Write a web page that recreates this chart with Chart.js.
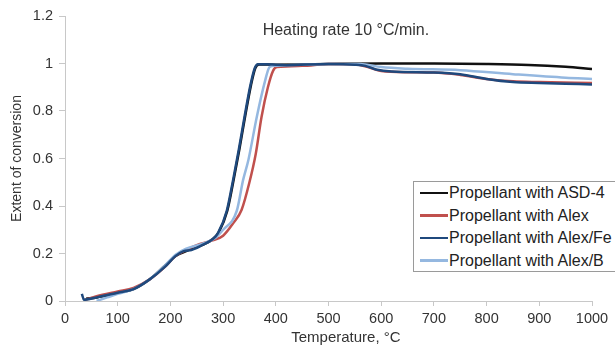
<!DOCTYPE html>
<html>
<head>
<meta charset="utf-8">
<script src="https://cdn.jsdelivr.net/npm/chart.js@4.4.1/dist/chart.umd.min.js"></script>
<style>
  html, body { margin: 0; padding: 0; background: #fff; }
  #wrap { position: relative; width: 615px; height: 347px; overflow: hidden; }
  #legend {
    position: absolute; left: 413px; top: 181px; width: 215px; height: 91px;
    border: 1px solid #9a9a9a; background: #fff; box-sizing: border-box;
    font-family: "Liberation Sans", Arial, sans-serif; font-size: 16px; color: #222;
    padding-top: 0px;
  }
  .row { height: 22.6px; line-height: 22.6px; white-space: nowrap; }
  .swatch { display: inline-block; width: 28px; height: 2.5px; vertical-align: middle; margin-left: 6px; margin-right: 1px; position: relative; top: -1px; }
</style>
</head>
<body>
<div id="wrap">
  <canvas id="chart" width="615" height="347"></canvas>
  <div id="legend"></div>
</div>
<script>
// === DATA ===
const seriesNames = ["Propellant with ASD-4", "Propellant with Alex", "Propellant with Alex/Fe", "Propellant with Alex/B"];
const seriesColors = ["#111111", "#c0504d", "#1f497d", "#95b8e0"];

// ASD-4 (black)
const asdT = [40, 60, 100, 130, 160, 190, 210, 230, 260, 280, 292, 308, 320, 331, 342, 353, 361, 368, 400, 500, 600, 700, 800, 880, 950, 1000];
const asdY = [0.01, 0.015, 0.035, 0.05, 0.09, 0.15, 0.19, 0.21, 0.235, 0.26, 0.29, 0.38, 0.51, 0.64, 0.78, 0.91, 0.98, 0.996, 0.995, 0.998, 1.0, 1.0, 0.998, 0.994, 0.986, 0.977];

// Alex (red)
const alexT = [38, 60, 100, 130, 160, 190, 210, 230, 250, 280, 300, 320, 335, 350, 362, 373, 385, 395, 402, 450, 500, 550, 575, 600, 650, 700, 750, 800, 850, 900, 1000];
const alexY = [0.005, 0.02, 0.04, 0.055, 0.09, 0.145, 0.19, 0.215, 0.235, 0.255, 0.275, 0.33, 0.383, 0.5, 0.62, 0.776, 0.9, 0.97, 0.985, 0.99, 0.998, 0.997, 0.985, 0.968, 0.963, 0.962, 0.952, 0.935, 0.925, 0.922, 0.918];

// Alex/Fe (dark blue)
const feT = [32, 36, 60, 100, 130, 160, 190, 210, 225, 240, 260, 280, 290, 307, 319, 330, 341, 352, 360, 366, 380, 420, 500, 550, 570, 590, 620, 700, 750, 800, 850, 900, 950, 1000];
const feY = [0.03, 0.005, 0.015, 0.035, 0.05, 0.09, 0.145, 0.19, 0.21, 0.215, 0.235, 0.26, 0.285, 0.38, 0.51, 0.64, 0.78, 0.91, 0.98, 0.997, 0.997, 0.993, 0.998, 0.995, 0.99, 0.975, 0.966, 0.962, 0.955, 0.935, 0.922, 0.918, 0.915, 0.912];

// Alex/B (light blue)
const bT = [60, 80, 100, 130, 160, 190, 210, 230, 260, 285, 300, 326, 338, 348, 364, 380, 388, 395, 450, 500, 560, 600, 650, 750, 850, 950, 1000];
const bY = [0.0, 0.015, 0.03, 0.05, 0.09, 0.15, 0.195, 0.22, 0.24, 0.265, 0.3, 0.38, 0.51, 0.594, 0.776, 0.93, 0.985, 0.99, 0.995, 0.998, 0.998, 0.985, 0.978, 0.972, 0.955, 0.94, 0.935];

const xTicks = [0, 100, 200, 300, 400, 500, 600, 700, 800, 900, 1000];
const yTicks = [0, 0.2, 0.4, 0.6, 0.8, 1, 1.2];

const chartTitle = "Heating rate 10 °C/min.";
const xTitle = "Temperature, °C";
const yTitle = "Extent of conversion";

// === HELPERS ===
function toPoints(xs, ys) {
    return xs.map((x, i) => ({ x: x, y: ys[i] }));
}

const allX = [asdT, alexT, feT, bT];
const allY = [asdY, alexY, feY, bY];
const drawOrder = [3, 2, 0, 1]; // lower = drawn on top

const datasets = seriesNames.map((name, i) => ({
    label: name,
    data: toPoints(allX[i], allY[i]),
    borderColor: seriesColors[i],
    backgroundColor: seriesColors[i],
    borderWidth: 2.5,
    pointRadius: 0,
    cubicInterpolationMode: 'monotone',
    order: drawOrder[i]
}));

const fontFamily = '"Liberation Sans", Arial, sans-serif';

// title inside the plot area + x axis title (both sit right of centre in the original)
const textPlugin = {
    id: 'extraText',
    afterDraw(chart) {
        const c = chart.ctx;
        const xs = chart.scales.x, ys = chart.scales.y;
        c.save();
        c.fillStyle = '#333';
        c.textAlign = 'center';
        c.textBaseline = 'middle';
        c.font = '16px ' + fontFamily;
        c.fillText(chartTitle, xs.getPixelForValue(533), ys.getPixelForValue(1.14));
        c.font = '15px ' + fontFamily;
        c.fillText(xTitle, xs.getPixelForValue(533), xs.bottom - 9);
        c.restore();
    }
};

const font = { family: fontFamily, size: 14.5 };

// === CHART ===
const ctx = document.getElementById('chart').getContext('2d');
const chart = new Chart(ctx, {
    type: 'line',
    data: { datasets: datasets },
    options: {
        responsive: false,
        animation: false,
        layout: { padding: { top: 16, right: 23, left: 0, bottom: 0 } },
        scales: {
            x: {
                type: 'linear',
                min: 0, max: 1000,
                afterBuildTicks: s => { s.ticks = xTicks.map(v => ({ value: v })); },
                afterFit: s => { s.height = 46; },
                grid: { drawOnChartArea: false, drawTicks: true, tickLength: 5, color: '#c8c8c8' },
                border: { color: '#c8c8c8', width: 1 },
                ticks: { font: font, color: '#333', padding: 4, maxRotation: 0, callback: v => String(v) }
            },
            y: {
                min: 0, max: 1.2,
                afterBuildTicks: s => { s.ticks = yTicks.map(v => ({ value: v })); },
                afterFit: s => { s.width = 65; },
                grid: { drawOnChartArea: false, drawTicks: true, tickLength: 6, color: '#c8c8c8' },
                border: { color: '#c8c8c8', width: 1 },
                ticks: { font: font, color: '#333', padding: 6, callback: v => String(v) },
                title: { display: true, text: yTitle, font: { family: fontFamily, size: 14 }, color: '#333', padding: { top: 9, bottom: 0 } }
            }
        },
        plugins: {
            legend: { display: false },
            tooltip: { enabled: false }
        }
    },
    plugins: [textPlugin]
});

// === LEGEND ===
const legendEl = document.getElementById('legend');
seriesNames.forEach((name, i) => {
    const row = document.createElement('div');
    row.className = 'row';
    const sw = document.createElement('span');
    sw.className = 'swatch';
    sw.style.background = seriesColors[i];
    row.appendChild(sw);
    row.appendChild(document.createTextNode(name));
    legendEl.appendChild(row);
});
</script>
</body>
</html>
